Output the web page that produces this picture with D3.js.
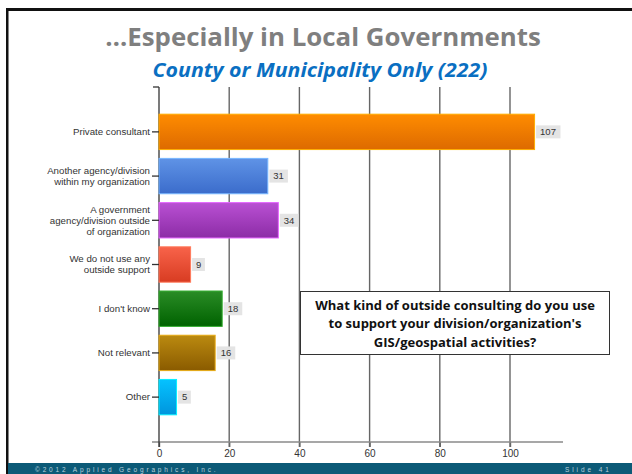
<!DOCTYPE html>
<html><head><meta charset="utf-8">
<script src="https://cdn.jsdelivr.net/npm/d3@7"></script>
<style>html,body{margin:0;padding:0;background:#fff;}svg{display:block;}</style>
</head><body>
<script>
const categories = [
  ["Private consultant"],
  ["Another agency/division", "within my organization"],
  ["A government", "agency/division outside", "of organization"],
  ["We do not use any", "outside support"],
  ["I don't know"],
  ["Not relevant"],
  ["Other"]
];
const values = [107, 31, 34, 9, 18, 16, 5];
const tickValues = [0, 20, 40, 60, 80, 100];
const barColors = [
  ["#ff8c00", "#dd6a00"],
  ["#5f93e6", "#3b6ccb"],
  ["#b950d3", "#8c2ca6"],
  ["#f8634a", "#d83c22"],
  ["#2a8c26", "#006200"],
  ["#bb8a10", "#8a5b00"],
  ["#05c2ff", "#0095dd"]
];
const titleText = "…Especially in Local Governments";
const subtitleText = "County or Municipality Only (222)";
const question = ["What kind of outside consulting do you use", "to support your division/organization's", "GIS/geospatial activities?"];

(function() {
const W = 632, H = 474;
const svg = d3.select("body").append("svg").attr("width", W).attr("height", H);
const defs = svg.append("defs");

// text squeezed horizontally to a target width (Calibri-like proportions)
function squeezedText(parent, cx, cy, size, target, attrs, lines, lh) {
  const gg = parent.append("g");
  const t = gg.append("text").attr("text-anchor", "middle").attr("font-size", size);
  Object.entries(attrs).forEach(([k, v]) => t.attr(k, v));
  const spans = lines.map((ln, k) => t.append("tspan").attr("x", 0).attr("y", k * (lh || 0)).text(ln));
  const w = spans[0].node().getComputedTextLength();
  const sx = w > 0 ? target / w : 1;
  gg.attr("transform", `translate(${cx},${cy}) scale(${sx},1)`);
  return gg;
}

svg.append("rect").attr("x", 0).attr("y", 0).attr("width", W).attr("height", H).attr("fill", "#fff");
svg.append("rect").attr("x", 6).attr("y", 8).attr("width", W - 6).attr("height", 3).attr("fill", "#111");
svg.append("rect").attr("x", 6).attr("y", 8).attr("width", 2.5).attr("height", H - 8).attr("fill", "#111");
svg.append("rect").attr("x", 8).attr("y", 463).attr("width", W - 8).attr("height", 11).attr("fill", "#0c5a77");
svg.append("text").attr("x", 35).attr("y", 472).attr("fill", "#b9d0dc")
  .attr("font-family", "Liberation Sans, Arial, sans-serif").attr("font-size", 6.5)
  .attr("letter-spacing", 2.85).text("©2012 Applied Geographics, Inc.");
svg.append("text").attr("x", 565).attr("y", 472).attr("fill", "#b9d0dc")
  .attr("font-family", "Liberation Sans, Arial, sans-serif").attr("font-size", 6.5)
  .attr("letter-spacing", 2.9).text("Slide 41");

squeezedText(svg, 323, 46, 24.5, 436,
  {"fill": "#7f7f7f", "font-family": "Open Sans, Noto Sans, sans-serif", "font-weight": "bold"}, [titleText]);
squeezedText(svg, 320, 76.5, 19.5, 335,
  {"fill": "#0a6fc2", "font-family": "Open Sans, Noto Sans, sans-serif", "font-weight": "bold", "font-style": "italic"}, [subtitleText]);

const x0 = 159, yTop = 87, yBot = 442;
const x = d3.scaleLinear().domain([0, 100]).range([x0, x0 + 351]);
const y = d3.scaleBand().domain(d3.range(values.length)).range([yTop, yBot]).paddingInner(0.2).paddingOuter(0.615);

const g = svg.append("g");
g.selectAll("line.grid").data(tickValues.slice(1)).join("line")
  .attr("x1", d => x(d)).attr("x2", d => x(d)).attr("y1", yTop).attr("y2", yBot + 5)
  .attr("stroke", "#666").attr("stroke-width", 1.4);

const xAxis = d3.axisBottom(x).tickValues(tickValues).tickSize(5).tickPadding(3);
const xa = g.append("g").attr("transform", `translate(0,${yBot})`).call(xAxis);
xa.select(".domain").remove();
xa.selectAll("line").attr("stroke", "#666").attr("stroke-width", 1.4);
xa.selectAll("text").attr("font-family", "Liberation Sans, Arial, sans-serif").attr("font-size", 10).attr("fill", "#333");
g.append("line").attr("x1", 152).attr("x2", 563).attr("y1", yBot).attr("y2", yBot)
  .attr("stroke", "#8a8a8a").attr("stroke-width", 1.3);

g.append("line").attr("x1", x0).attr("x2", x0).attr("y1", yTop).attr("y2", yBot + 5)
  .attr("stroke", "#333").attr("stroke-width", 1.3);
g.append("line").attr("x1", 153).attr("x2", x0).attr("y1", yTop).attr("y2", yTop)
  .attr("stroke", "#333").attr("stroke-width", 1.3);

barColors.forEach((c, i) => {
  const lg = defs.append("linearGradient").attr("id", "grad" + i).attr("x1", 0).attr("y1", 0).attr("x2", 0).attr("y2", 1);
  lg.append("stop").attr("offset", "0%").attr("stop-color", c[0]);
  lg.append("stop").attr("offset", "100%").attr("stop-color", c[1]);
});

g.selectAll("rect.bar").data(values).join("rect")
  .attr("x", x(0)).attr("y", (d, i) => y(i))
  .attr("width", d => x(d) - x(0)).attr("height", y.bandwidth())
  .attr("fill", (d, i) => `url(#grad${i})`)
  .attr("stroke", (d, i) => d3.color(barColors[i][0]).brighter(0.6)).attr("stroke-width", 1);

const vl = g.selectAll("g.vl").data(values).join("g")
  .attr("transform", (d, i) => `translate(${x(d) + 1.5},${y(i) + y.bandwidth() / 2})`);
vl.append("rect").attr("x", 0).attr("y", -6.5)
  .attr("width", d => String(d).length * 5.8 + 7).attr("height", 13).attr("fill", "#e4e4e4");
vl.append("text").attr("x", 4).attr("y", 3.3).attr("font-family", "Liberation Sans, Arial, sans-serif")
  .attr("font-size", 9.5).attr("fill", "#333").text(d => d);

const cl = g.selectAll("g.cl").data(categories).join("g")
  .attr("transform", (d, i) => `translate(0,${y(i) + y.bandwidth() / 2})`);
cl.append("line").attr("x1", 152).attr("x2", x0).attr("y1", 0).attr("y2", 0).attr("stroke", "#333").attr("stroke-width", 1.3);
cl.append("text").attr("text-anchor", "end").attr("font-family", "Liberation Sans, Arial, sans-serif")
  .attr("font-size", 9.7).attr("fill", "#333")
  .each(function(lines) {
    const t = d3.select(this);
    const lh = 11;
    const off = -(lines.length - 1) * lh / 2 + 3.3;
    lines.forEach((ln, k) => t.append("tspan").attr("x", 150).attr("y", off + k * lh).text(ln));
  });

svg.append("rect").attr("x", 300.5).attr("y", 291.5).attr("width", 309).attr("height", 63)
  .attr("fill", "#fff").attr("stroke", "#333").attr("stroke-width", 1);
squeezedText(svg, 455, 310, 13, 280,
  {"fill": "#111", "font-family": "Open Sans, Noto Sans, sans-serif", "font-weight": "bold"}, question, 18.5);
})();
</script>
</body></html>
